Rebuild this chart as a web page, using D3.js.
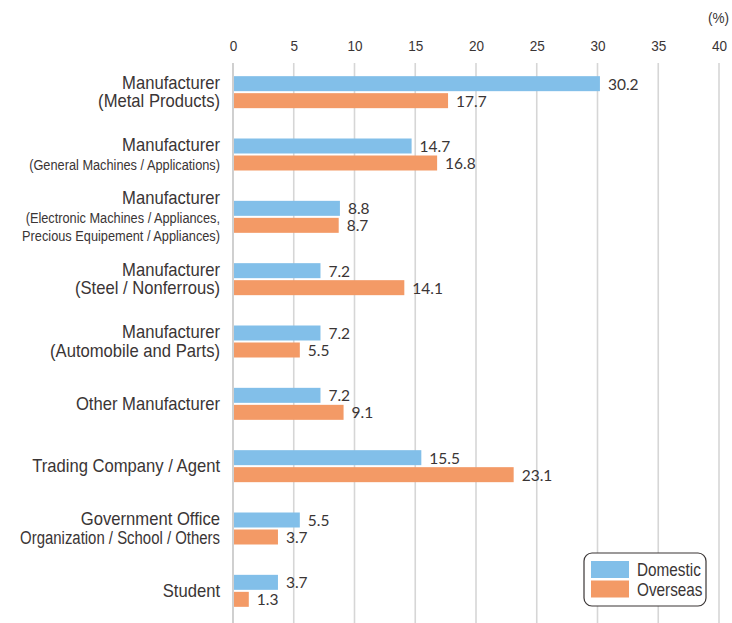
<!DOCTYPE html>
<html>
<head>
<meta charset="utf-8">
<script src="https://cdn.jsdelivr.net/npm/d3@7"></script>
<style>
  html, body { margin: 0; padding: 0; background: #fff; }
  svg text { font-family: "Liberation Sans", "Arial", sans-serif; fill: #3a3535; }
  .val { font-family: "Lato", "Noto Sans", sans-serif; }
</style>
</head>
<body>
<svg id="chart" width="732" height="623"></svg>
<script>
// chart data
const categories = [
  ["Manufacturer", "(Metal Products)"],
  ["Manufacturer", "(General Machines / Applications)"],
  ["Manufacturer", "(Electronic Machines / Appliances,", "Precious Equipement / Appliances)"],
  ["Manufacturer", "(Steel / Nonferrous)"],
  ["Manufacturer", "(Automobile and Parts)"],
  ["Other Manufacturer"],
  ["Trading Company / Agent"],
  ["Government Office", "Organization / School / Others"],
  ["Student"]
];
const domestic = [30.2, 14.7, 8.8, 7.2, 7.2, 7.2, 15.5, 5.5, 3.7];
const overseas = [17.7, 16.8, 8.7, 14.1, 5.5, 9.1, 23.1, 3.7, 1.3];
const xTicks = [0, 5, 10, 15, 20, 25, 30, 35, 40];
const seriesNames = ["Domestic", "Overseas"];
const unitLabel = "(%)";

const colors = ["#82bfe9", "#f39a66"];
// categories whose sub-lines are set in a smaller type
const smallSub = new Set([1, 2]);
// the original type is a condensed face, squeeze a regular one
const squeeze = 0.875;
const narrow = `scale(${squeeze},1)`;

const svg = d3.select("#chart");

const x = d3.scaleLinear().domain([0, 40]).range([233, 719]);
const y = d3.scaleBand().domain(d3.range(categories.length)).range([61, 622]);

// gridlines
svg.append("g")
  .selectAll("line")
  .data(xTicks)
  .join("line")
  .attr("x1", d => x(d))
  .attr("x2", d => x(d))
  .attr("y1", 63)
  .attr("y2", 623)
  .attr("stroke", d => d === 0 ? "#c4c4c4" : "#d6d6d6")
  .attr("stroke-width", 1.6);

// top axis labels
const xAxis = d3.axisTop(x).tickValues(xTicks).tickSize(0).tickPadding(0);
svg.append("g")
  .attr("transform", "translate(0,51)")
  .call(xAxis)
  .call(g => g.select(".domain").remove())
  .call(g => g.selectAll("text")
    .attr("font-size", 15.5)
    .attr("font-family", null)
    .attr("fill", null)
    .attr("transform", narrow));

svg.append("text")
  .attr("transform", "translate(729,23) " + narrow)
  .attr("text-anchor", "end")
  .attr("font-size", 15.5)
  .text(unitLabel);

// bars
const groups = svg.append("g")
  .selectAll("g")
  .data(categories.map((c, i) => ({ i, vals: [domestic[i], overseas[i]] })))
  .join("g")
  .attr("transform", d => `translate(0,${y(d.i) + y.bandwidth() / 2})`);

groups.selectAll("rect")
  .data(d => d.vals)
  .join("rect")
  .attr("x", x(0) + 1)
  .attr("y", (d, k) => k === 0 ? -16 : 1)
  .attr("width", d => x(d) - x(0) - 1)
  .attr("height", 15)
  .attr("fill", (d, k) => colors[k]);

groups.selectAll("text.val")
  .data(d => d.vals)
  .join("text")
  .attr("class", "val")
  .attr("x", d => x(d) + 8)
  .attr("y", (d, k) => (k === 0 ? -8.5 : 8.5) + 6)
  .attr("font-size", 15.5)
  .text(d => d.toFixed(1));

// category labels, one text per line so a long line can be squeezed to fit
const labelRight = 220;
const maxWidth = 200;
const lineData = [];
categories.forEach((lines, i) => {
  const cy = y(i) + y.bandwidth() / 2;
  const lh = 18.5;
  const top = cy - (lines.length - 1) * lh / 2;
  lines.forEach((t, j) => {
    lineData.push({ t, yy: top + j * lh + 6, size: (j > 0 && smallSub.has(i)) ? 14.6 : 19 });
  });
});

svg.append("g")
  .selectAll("text")
  .data(lineData)
  .join("text")
  .attr("text-anchor", "end")
  .attr("font-size", d => d.size)
  .text(d => d.t)
  .attr("transform", function (d) {
    const w = this.getComputedTextLength();
    const sx = Math.min(squeeze, maxWidth / w);
    return `translate(${labelRight},${d.yy}) scale(${sx},1)`;
  });

// legend
const legend = svg.append("g").attr("transform", "translate(584,553)");
legend.append("rect")
  .attr("width", 122)
  .attr("height", 53)
  .attr("rx", 8)
  .attr("fill", "#fff")
  .attr("stroke", "#3a3535")
  .attr("stroke-width", 1.2);
legend.selectAll("rect.sw")
  .data(seriesNames)
  .join("rect")
  .attr("class", "sw")
  .attr("x", 7)
  .attr("y", (d, k) => 8 + k * 19.5)
  .attr("width", 38)
  .attr("height", 17)
  .attr("fill", (d, k) => colors[k]);
legend.selectAll("text")
  .data(seriesNames)
  .join("text")
  .attr("transform", (d, k) => `translate(53,${23 + k * 19.5}) ${narrow}`)
  .attr("font-size", 17.5)
  .text(d => d);
</script>
</body>
</html>
